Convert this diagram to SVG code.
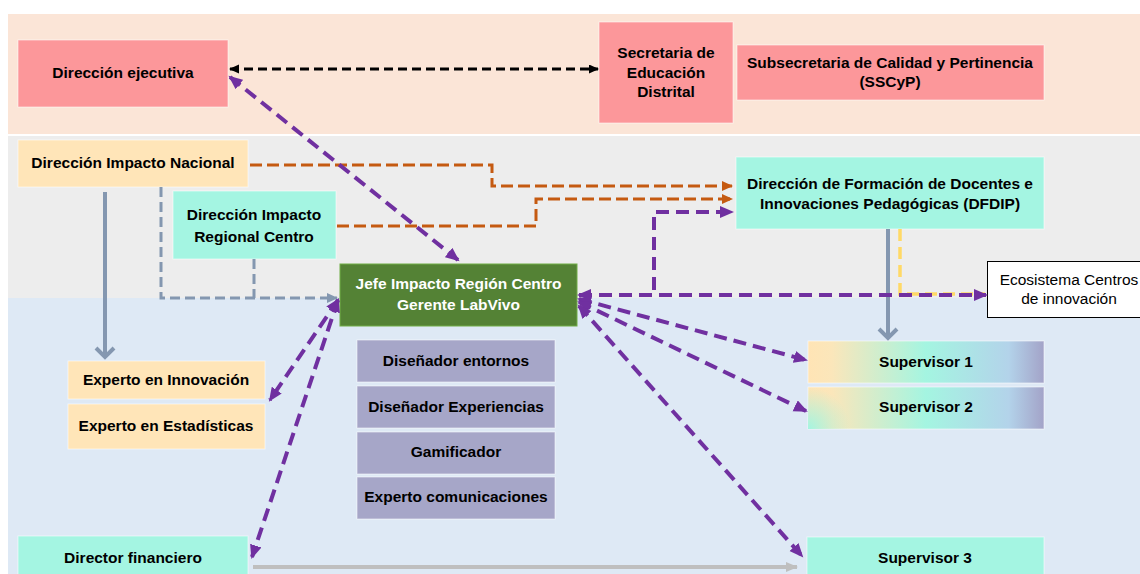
<svg xmlns="http://www.w3.org/2000/svg" width="1140" height="574" viewBox="0 0 1140 574">
<style>
.t{font-family:"Liberation Sans",Arial,sans-serif;font-size:15.5px;font-weight:bold;fill:#000;text-anchor:middle}
.tw{fill:#fff}
.tn{font-weight:normal;font-size:15.5px}
.box{stroke:#fff;stroke-opacity:0.55;stroke-width:1}
.pink{fill:#FC979A}
.cream{fill:#FFE5B8}
.aqua{fill:#A4F5E2}
.lav{fill:#A6A6C8}
.green{fill:#548235;stroke:#70AD47;stroke-width:1}
.d{fill:none}
.blk{stroke:#000;stroke-width:3;stroke-dasharray:9 5}
.pur{stroke:#7030A0;stroke-width:4;stroke-dasharray:13 7}
.org{stroke:#C55A11;stroke-width:3;stroke-dasharray:12 5}
.sld{stroke:#8497B0;stroke-width:3;stroke-dasharray:10 5}
.sls{stroke:#8497B0;stroke-width:4}
.yel{stroke:#FFD966;stroke-width:3.5;stroke-dasharray:12 6}
.gry{stroke:#BFBFBF;stroke-width:4}
</style>
<defs>
<marker id="aBlk" markerUnits="userSpaceOnUse" markerWidth="11" markerHeight="10" refX="9" refY="4.5" orient="auto-start-reverse"><path d="M0,0 L10,4.5 L0,9 z" fill="#000"/></marker>
<marker id="aPur" markerUnits="userSpaceOnUse" markerWidth="15" markerHeight="13" refX="12" refY="6" orient="auto-start-reverse"><path d="M0,0 L14,6 L0,12 z" fill="#7030A0"/></marker>
<marker id="aOrg" markerUnits="userSpaceOnUse" markerWidth="12" markerHeight="11" refX="10" refY="5" orient="auto-start-reverse"><path d="M0,0 L11,5 L0,10 z" fill="#C55A11"/></marker>
<marker id="aSl" markerUnits="userSpaceOnUse" markerWidth="12" markerHeight="11" refX="10" refY="5" orient="auto-start-reverse"><path d="M0,0 L11,5 L0,10 z" fill="#8497B0"/></marker>
<marker id="aSlO" markerUnits="userSpaceOnUse" markerWidth="14" markerHeight="22" refX="10" refY="10" orient="auto" overflow="visible"><path d="M1,1 L10,10 L1,19" fill="none" stroke="#8497B0" stroke-width="4"/></marker>
<marker id="aGry" markerUnits="userSpaceOnUse" markerWidth="13" markerHeight="11" refX="11" refY="5" orient="auto-start-reverse"><path d="M0,0 L12,5 L0,10 z" fill="#BFBFBF"/></marker>
<linearGradient id="gSup" x1="0" y1="0" x2="1" y2="0">
<stop offset="0" stop-color="#FFE4B5"/>
<stop offset="0.1" stop-color="#FBE6BA"/>
<stop offset="0.5" stop-color="#A4F5E1"/>
<stop offset="0.85" stop-color="#B3D3EA"/>
<stop offset="1" stop-color="#A3A3C8"/>
</linearGradient>
<radialGradient id="gCorner" gradientUnits="userSpaceOnUse" cx="808" cy="429" r="42">
<stop offset="0" stop-color="#A4F5E1" stop-opacity="1"/>
<stop offset="1" stop-color="#A4F5E1" stop-opacity="0"/>
</radialGradient>
</defs>

<rect x="0" y="0" width="1140" height="574" fill="#fff"/>
<g id="bands">
<rect x="8" y="14" width="1132" height="120" fill="#FBE5D7"/>
<rect x="8" y="136" width="1132" height="162" fill="#EDEDED"/>
<rect x="8" y="298" width="1132" height="276" fill="#DEE9F5"/>
</g>

<g id="n-direccion-ejecutiva"><rect class="box pink" x="18" y="40" width="210" height="67"/><text class="t" x="123" y="78">Dirección ejecutiva</text></g>
<g id="n-secretaria"><rect class="box pink" x="599" y="22" width="134" height="101"/><text class="t" x="666" y="58">Secretaria de</text><text class="t" x="666" y="78">Educación</text><text class="t" x="666" y="97">Distrital</text></g>
<g id="n-subsecretaria"><rect class="box pink" x="737" y="45" width="307" height="55"/><text class="t" x="890" y="68">Subsecretaria de Calidad y Pertinencia</text><text class="t" x="890" y="87">(SSCyP)</text></g>
<g id="n-impacto-nacional"><rect class="box cream" x="18" y="140" width="230" height="47"/><text class="t" x="133" y="168">Dirección Impacto Nacional</text></g>
<g id="n-impacto-regional"><rect class="box aqua" x="173" y="191" width="163" height="68"/><text class="t" x="254" y="220">Dirección Impacto</text><text class="t" x="254" y="242">Regional Centro</text></g>
<g id="n-dfdip"><rect class="box aqua" x="736" y="157" width="308" height="72"/><text class="t" x="890" y="189">Dirección de Formación de Docentes e</text><text class="t" x="890" y="209">Innovaciones Pedagógicas (DFDIP)</text></g>
<g id="n-jefe"><rect class="green" x="340" y="264" width="237" height="62"/><text class="t tw" x="458.5" y="289">Jefe Impacto Región Centro</text><text class="t tw" x="458.5" y="310">Gerente LabVivo</text></g>
<g id="n-ecosistema"><rect x="987.5" y="261.5" width="175" height="56" fill="#fff" stroke="#000" stroke-width="1"/><text class="t tn" x="1069" y="285">Ecosistema Centros</text><text class="t tn" x="1069" y="304">de innovación</text></g>
<g id="n-experto-innovacion"><rect class="box cream" x="68" y="361" width="197" height="38"/><text class="t" x="166" y="385">Experto en Innovación</text></g>
<g id="n-experto-estadisticas"><rect class="box cream" x="68" y="404" width="197" height="45"/><text class="t" x="166" y="431">Experto en Estadísticas</text></g>
<g id="n-disenador-entornos"><rect class="box lav" x="357" y="340" width="198" height="42"/><text class="t" x="456" y="366">Diseñador entornos</text></g>
<g id="n-disenador-experiencias"><rect class="box lav" x="357" y="386" width="198" height="42"/><text class="t" x="456" y="412">Diseñador Experiencias</text></g>
<g id="n-gamificador"><rect class="box lav" x="357" y="432" width="198" height="42"/><text class="t" x="456" y="457">Gamificador</text></g>
<g id="n-experto-comunicaciones"><rect class="box lav" x="357" y="477" width="198" height="42"/><text class="t" x="456" y="502">Experto comunicaciones</text></g>
<g id="n-supervisor-1"><rect class="box" x="808" y="341" width="236" height="42" fill="url(#gSup)"/><text class="t" x="926" y="367">Supervisor 1</text></g>
<g id="n-supervisor-2"><rect class="box" x="808" y="387" width="236" height="42" fill="url(#gSup)"/><rect x="808" y="387" width="236" height="42" fill="url(#gCorner)"/><text class="t" x="926" y="412">Supervisor 2</text></g>
<g id="n-supervisor-3"><rect class="box aqua" x="807" y="537" width="237" height="42"/><text class="t" x="925" y="563">Supervisor 3</text></g>
<g id="n-director-financiero"><rect class="box aqua" x="18" y="536" width="230" height="42"/><text class="t" x="133" y="563">Director financiero</text></g>

<g id="connectors">
<path class="d blk" d="M230,69 H598" marker-start="url(#aBlk)" marker-end="url(#aBlk)"/>
<path class="d org" d="M250,165 H492 V186 H732" marker-end="url(#aOrg)"/>
<path class="d org" d="M337,226 H536 V199 H732" marker-end="url(#aOrg)"/>
<path class="d sld" d="M161,187 V298 H337" marker-end="url(#aSl)"/>
<path class="d sld" d="M254,259 V298"/>
<path class="d sls" d="M105,192 V357" marker-end="url(#aSlO)"/>
<path class="d sls" d="M888,229 V338" marker-end="url(#aSlO)"/>
<path class="d yel" d="M900,229 V294 H985"/>
<path class="d gry" d="M253,567 H797" marker-end="url(#aGry)"/>
<path class="d pur" d="M230,77 L458,260" marker-start="url(#aPur)" marker-end="url(#aPur)"/>
<path class="d pur" d="M579,295 H654 V212 H732" marker-end="url(#aPur)"/>
<path class="d pur" d="M579,295 H986" marker-start="url(#aPur)" marker-end="url(#aPur)"/>
<path class="d pur" d="M579,299 L806,360" marker-start="url(#aPur)" marker-end="url(#aPur)"/>
<path class="d pur" d="M579,302 L806,411" marker-start="url(#aPur)" marker-end="url(#aPur)"/>
<path class="d pur" d="M579,306 L802,556" marker-start="url(#aPur)" marker-end="url(#aPur)"/>
<path class="d pur" d="M338,300 L270,400" marker-start="url(#aPur)" marker-end="url(#aPur)"/>
<path class="d pur" d="M338,300 L252,557" marker-start="url(#aPur)" marker-end="url(#aPur)"/>
</g>
</svg>
